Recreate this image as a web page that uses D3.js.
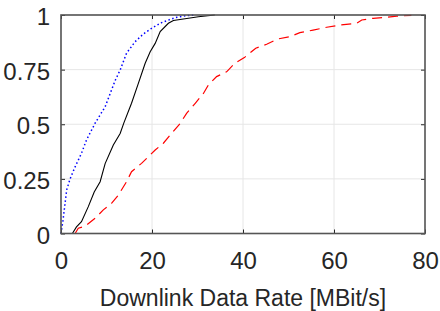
<!DOCTYPE html>
<html><head><meta charset="utf-8">
<script src="https://cdn.jsdelivr.net/npm/d3@7"></script>
<style>body{margin:0;background:#fff}svg{display:block}text{font-family:"Liberation Sans",Arial,sans-serif;fill:#262626}</style>
</head><body>
<script>
const xTicks = [0, 20, 40, 60, 80];
const yTicks = [0, 0.25, 0.5, 0.75, 1];
const yTickLabels = ["0", "0.25", "0.5", "0.75", "1"];
const xLabel = "Downlink Data Rate [MBit/s]";

// Blue dotted series: [rate, cdf]
const blueRate = [0, 0.44, 1.25, 2, 3.1, 4.5, 5.6, 7.5, 9.7, 11.9, 13, 14.4, 16.3, 18.1, 19.9, 22.1, 24.3, 25.5, 27.5, 29.5];
const blueCdf  = [0, 0.06, 0.2, 0.25, 0.305, 0.367, 0.428, 0.505, 0.58, 0.70, 0.748, 0.825, 0.878, 0.913, 0.939, 0.965, 0.982, 0.99, 0.997, 1];

// Black solid series
const blackRate = [2.5, 3.4, 4.5, 6, 7.3, 8.6, 9.7, 11.5, 13, 13.8, 15.5, 17, 18.5, 19.6, 20.7, 21.8, 23.6, 24.7, 30.2, 33.8];
const blackCdf  = [0, 0.03, 0.054, 0.123, 0.19, 0.237, 0.32, 0.405, 0.458, 0.505, 0.596, 0.687, 0.779, 0.832, 0.87, 0.924, 0.962, 0.975, 0.992, 1];

// Red dashed series
const redRate = [3.1, 3.8, 5.3, 7.5, 9.3, 11.1, 12.6, 14.4, 15.5, 17.7, 20.7, 22.5, 24.3, 26.2, 27.6, 29.5, 31.3, 32.4, 34.2, 36.4, 38.2, 40.3, 42.8, 45.2, 47.6, 50.3, 52.5, 55.4, 58.4, 61.3, 65, 66.1, 68.6, 71.5, 73.8, 77];
const redCdf  = [0, 0.024, 0.034, 0.07, 0.108, 0.138, 0.176, 0.237, 0.283, 0.321, 0.382, 0.413, 0.458, 0.504, 0.55, 0.596, 0.641, 0.68, 0.718, 0.74, 0.779, 0.805, 0.848, 0.866, 0.89, 0.901, 0.919, 0.931, 0.944, 0.954, 0.962, 0.977, 0.985, 0.989, 0.995, 0.998];

const W = 440, H = 311;
const m = {left: 61, right: 15, top: 15, bottom: 77.5};
const svg = d3.select("body").append("svg").attr("width", W).attr("height", H);
const x = d3.scaleLinear().domain([0, 80]).range([m.left, W - m.right]);
const y = d3.scaleLinear().domain([0, 1]).range([H - m.bottom, m.top]);

// grid
const g = svg.append("g");
g.selectAll("line.gx").data(xTicks).join("line")
  .attr("x1", d => x(d)).attr("x2", d => x(d)).attr("y1", y(0)).attr("y2", y(1))
  .attr("stroke", "#e6e6e6").attr("stroke-width", 1);
g.selectAll("line.gy").data(yTicks).join("line")
  .attr("y1", d => y(d)).attr("y2", d => y(d)).attr("x1", x(0)).attr("x2", x(80))
  .attr("stroke", "#e6e6e6").attr("stroke-width", 1);

function series(rate, cdf) { return rate.map((r, i) => [r, cdf[i]]); }
const line = d3.line().x(d => x(d[0])).y(d => y(d[1]));

svg.append("path").datum(series(redRate, redCdf)).attr("d", line)
  .attr("fill", "none").attr("stroke", "#ff0000").attr("stroke-width", 1.2).attr("stroke-dasharray", "10,6");
svg.append("path").datum(series(blackRate, blackCdf)).attr("d", line)
  .attr("fill", "none").attr("stroke", "#000").attr("stroke-width", 1.1);
svg.append("path").datum(series(blueRate, blueCdf)).attr("d", line)
  .attr("fill", "none").attr("stroke", "#0000ff").attr("stroke-width", 1.5).attr("stroke-dasharray", "1.5,2.5");

// axes
const fs = 24;
const xAxisB = d3.axisBottom(x).tickValues(xTicks).tickSize(-4).tickPadding(18.5);
const xAxisT = d3.axisTop(x).tickValues(xTicks).tickSize(-4).tickFormat("");
const yAxisL = d3.axisLeft(y).tickValues(yTicks).tickSize(-4).tickPadding(11).tickFormat((d, i) => yTickLabels[i]);
const yAxisR = d3.axisRight(y).tickValues(yTicks).tickSize(-4).tickFormat("");

function style(sel) {
  sel.selectAll(".domain").remove();
  sel.selectAll(".tick line").attr("stroke", "#262626").attr("stroke-width", 1);
  sel.selectAll("text").attr("font-size", fs).attr("fill", "#262626").attr("font-family", '"Liberation Sans",Arial,sans-serif');
}
svg.append("g").attr("transform", `translate(0,${y(0)})`).call(xAxisB).call(style);
svg.append("g").attr("transform", `translate(0,${y(1)})`).call(xAxisT).call(style);
svg.append("g").attr("transform", `translate(${x(0)},0)`).call(yAxisL).call(style)
  .selectAll("text").attr("dy", "0.4em");
svg.append("g").attr("transform", `translate(${x(80)},0)`).call(yAxisR).call(style);

svg.append("rect").attr("x", x(0)).attr("y", y(1)).attr("width", x(80) - x(0)).attr("height", y(0) - y(1))
  .attr("fill", "none").attr("stroke", "#555").attr("stroke-width", 1.6);

svg.append("text").attr("x", (x(0) + x(80)) / 2).attr("y", 305.5).attr("text-anchor", "middle")
  .attr("font-size", 23).text(xLabel);
</script>
</body></html>
